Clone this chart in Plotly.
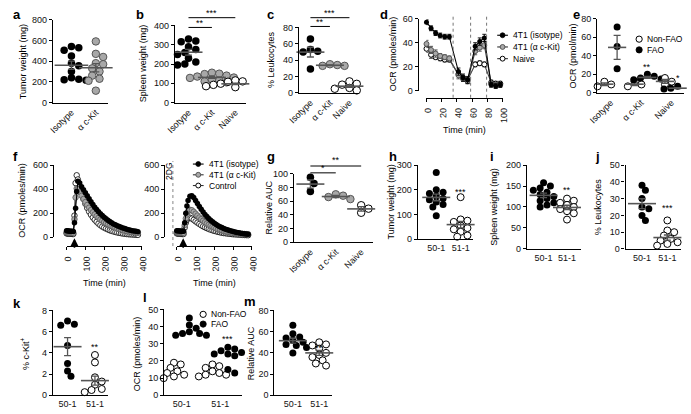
import numpy as np
import plotly.graph_objects as go

W, H = 691, 414
FONT = "Liberation Sans, Arial, sans-serif"

# ---------------- data ----------------
cat2 = ["Isotype", "α c-Kit"]
cat3 = ["Isotype", "α c-Kit", "Naive"]
grp = ["50-1", "51-1"]

a_isotype = [540, 530, 505, 450, 380, 355, 300, 240, 225, 215, 220]
a_ckit = [590, 470, 440, 380, 370, 330, 300, 260, 230, 210, 115]

b_isotype = [330, 320, 315, 290, 275, 260, 250, 230, 210, 200, 195]
b_ckit = [155, 150, 148, 140, 135, 130, 128, 120, 115, 110, 105]
b_naive = [115, 110, 108, 100, 98, 95, 92, 90, 85, 80]

c_isotype = [66, 53, 51, 50, 29]
c_ckit = [35, 34, 33, 33]
c_naive = [14, 11, 10, 8, 6, 5, 3]

d_time = [0, 6, 12, 18, 24, 30, 42, 48, 54, 64, 70, 76, 85, 91, 97]
d_isotype = [57, 52, 48, 46, 45, 45, 16, 11, 9, 37, 41, 44, 5, 4, 5]
d_isotype_err = [2, 2, 2, 2, 2, 2, 3, 3, 3, 3, 3, 3, 2, 2, 2]
d_ckit = [39, 34, 31, 29, 28, 27, 13, 10, 8, 33, 36, 38, 6, 5, 5]
d_ckit_err = [3, 3, 3, 2, 2, 2, 3, 2, 2, 3, 3, 3, 2, 2, 2]
d_naive = [35, 30, 28, 27, 26, 26, 14, 11, 9, 22, 23, 22, 7, 6, 6]
d_naive_err = [3, 3, 2, 2, 2, 2, 2, 2, 2, 2, 2, 2, 2, 2, 2]
d_injections = [35, 58, 79]
d_legend = ["4T1 (isotype)", "4T1 (α c-Kit)", "Naive"]

e_nonfao = [[12, 9, 7], [12, 9, 7], [16, 12, 9]]
e_fao = [[71, 50, 26], [20, 18, 16, 15, 14], [7, 5, 4, 3, 5, 6]]

f_time = [0, 6, 12, 18, 24, 30, 36, 42, 48, 54, 60, 70, 80, 90, 100, 110, 120, 130,
          140, 150, 160, 170, 180, 190, 200, 210, 220, 230, 240, 250, 260, 270, 280,
          290, 300, 310, 320, 330, 340, 350, 360, 370, 380]
f1_isotype = [55, 53, 52, 50, 50, 49, 48, 120, 240, 380, 465, 450, 420, 395, 370, 345,
              320, 295, 272, 250, 230, 212, 195, 180, 166, 153, 141, 130, 120, 111, 103,
              96, 89, 83, 77, 72, 67, 63, 59, 55, 52, 49, 46]
f1_ckit = [42, 40, 39, 38, 37, 37, 36, 150, 330, 405, 400, 375, 345, 318, 292, 268, 246,
           226, 207, 190, 175, 161, 148, 137, 126, 116, 107, 99, 92, 85, 79, 73, 68, 63,
           59, 55, 51, 48, 45, 42, 40, 38, 36]
f1_control = [32, 30, 29, 28, 28, 27, 27, 180, 450, 515, 480, 420, 365, 318, 278, 243,
              213, 187, 164, 145, 128, 113, 100, 89, 80, 72, 65, 58, 53, 48, 44, 40, 37,
              34, 31, 29, 27, 25, 24, 23, 22, 21, 20]
f2_isotype = [55, 53, 52, 51, 50, 50, 49, 120, 200, 260, 305, 340, 345, 330, 305, 280,
              255, 232, 210, 190, 172, 156, 141, 128, 116, 105, 96, 88, 80, 73, 67, 62,
              57, 52, 47, 43, 40, 37, 34, 31, 29, 27, 25]
f2_ckit = [42, 40, 39, 38, 38, 37, 37, 100, 155, 190, 215, 228, 225, 212, 196, 180, 164,
           150, 137, 125, 114, 104, 95, 87, 80, 73, 67, 62, 57, 53, 49, 46, 43, 40, 37,
           35, 33, 31, 29, 28, 27, 26, 25]
f2_control = [32, 30, 29, 28, 28, 27, 27, 80, 120, 145, 158, 162, 155, 144, 132, 121,
              110, 100, 91, 83, 76, 69, 63, 58, 53, 49, 45, 41, 38, 35, 33, 31, 29, 27,
              25, 24, 23, 22, 21, 20, 19, 18, 17]
f_injection = [42, 34]
f_legend = ["4T1 (isotype)", "4T1 (α c-Kit)", "Control"]

g_isotype = [95, 86, 74]
g_ckit = [70, 68, 66, 63]
g_naive = [54, 49, 43]

h_50 = [270, 200, 190, 185, 175, 165, 160, 150, 140, 130, 95]
h_51 = [170, 80, 75, 70, 60, 55, 45, 40, 30, 15, 10]

i_50 = [158, 150, 145, 140, 135, 130, 125, 120, 115, 110, 105, 100]
i_51 = [120, 115, 110, 105, 100, 95, 90, 85, 70]

j_50 = [38, 35, 30, 25, 24, 20, 17]
j_51 = [17, 11, 10, 8, 6, 5, 4, 3, 2, 2]

k_50 = [7.0, 6.7, 6.6, 4.7, 3.0, 2.3, 1.8]
k_51 = [3.8, 3.1, 1.7, 1.3, 1.0, 0.6, 0.3, 0.2, 0.5]

l_nonfao = [[19, 18, 16, 14, 13, 12, 11, 10], [18, 17, 16, 14, 13, 12, 12, 11]]
l_fao = [[45, 41, 39, 37, 36, 35, 35, 36], [28, 27, 26, 25, 24, 24, 23, 15, 13]]

m_50 = [66, 58, 55, 54, 52, 50, 48, 47, 45, 40]
m_51 = [50, 48, 47, 46, 44, 40, 38, 36, 33, 30, 28]

# ---------------- helpers ----------------
fig = go.Figure()
axes = {}
shapes = []
annots = []
counter = [0]


def px2x(px):
    return px / W


def px2y(py):
    return 1 - py / H


TICKFONT = dict(family=FONT, size=9, color="#111")


class Panel:
    def __init__(self, yax_x, yt, yb, yr, yticks, x0, x1, xr, xline,
                 xticks=None, xtext=None, xangle=0, xmarks=False):
        counter[0] += 1
        n = counter[0]
        self.xa = "x" if n == 1 else f"x{n}"
        self.ya = "y" if n == 1 else f"y{n}"
        self.x0, self.x1, self.xr = x0, x1, xr
        self.yt, self.yb, self.yr = yt, yb, yr
        self.xunit = (x1 - x0) / (xr[1] - xr[0])
        self.yunit = (yb - yt) / (yr[1] - yr[0])
        common = dict(showline=True, linecolor="black", linewidth=1.1, showgrid=False,
                      zeroline=False, fixedrange=True, tickfont=TICKFONT,
                      tickcolor="black", tickwidth=1.1, ticklen=3)
        kx = "xaxis" if n == 1 else f"xaxis{n}"
        ky = "yaxis" if n == 1 else f"yaxis{n}"
        xd = dict(domain=[px2x(x0), px2x(x1)], range=xr, anchor="free",
                  position=px2y(xline), tickangle=xangle,
                  ticks="outside" if xmarks else "", **common)
        if xticks is not None:
            xd["tickvals"] = xticks
        if xtext is not None:
            xd["ticktext"] = xtext
        axes[kx] = xd
        axes[ky] = dict(domain=[px2y(yb), px2y(yt)], range=yr, anchor="free",
                        position=px2x(yax_x), tickvals=yticks, ticks="outside", **common)

    def cx(self, v):
        return self.x0 + (v - self.xr[0]) * self.xunit

    def cy(self, v):
        return self.yb - (v - self.yr[0]) * self.yunit


STY = {
    "black": dict(color="black", line=dict(color="black", width=0)),
    "grey": dict(color="#a8a8a8", line=dict(color="#555555", width=1)),
    "open": dict(color="white", line=dict(color="black", width=1)),
}


def swarm(vals, yunit, d):
    order = sorted(range(len(vals)), key=lambda i: -vals[i])
    placed = []
    offs = [0.0] * len(vals)
    for i in order:
        y = vals[i] * yunit
        cand = 0.0
        for k in range(0, 30):
            cand = 0.0 if k == 0 else ((k + 1) // 2) * d * 0.5 * (1 if k % 2 else -1)
            if all((cand - px) ** 2 + (y - py) ** 2 >= (d * 0.85) ** 2 for px, py in placed):
                break
        placed.append((cand, y))
        offs[i] = cand
    return offs


def dots(p, xc, vals, style, size=7.5, mean=True, mean_w=20, mean_col="#555"):
    offs = swarm(vals, p.yunit, size)
    xs = [xc + o / p.xunit for o in offs]
    fig.add_trace(go.Scatter(x=xs, y=vals, xaxis=p.xa, yaxis=p.ya, mode="markers",
                             marker=dict(size=size, **STY[style]), cliponaxis=False,
                             showlegend=False, hoverinfo="skip"))
    if mean:
        m = float(np.mean(vals))
        s = float(np.std(vals, ddof=1) / np.sqrt(len(vals)))
        fig.add_trace(go.Scatter(x=[xc], y=[m], xaxis=p.xa, yaxis=p.ya, mode="markers",
                                 marker=dict(symbol="line-ew", size=mean_w, color=mean_col,
                                             line=dict(color=mean_col, width=1.6)),
                                 error_y=dict(type="data", array=[s], width=3.5,
                                              thickness=1.3, color=mean_col),
                                 cliponaxis=False, showlegend=False, hoverinfo="skip"))


def text(x, y, s, size=9, angle=0, xanchor="center", yanchor="middle", bold=False):
    annots.append(dict(x=px2x(x), y=px2y(y), xref="paper", yref="paper",
                       text=("<b>" + s + "</b>") if bold else s,
                       showarrow=False, textangle=angle, xanchor=xanchor, yanchor=yanchor,
                       font=dict(family=FONT, size=size, color="black")))


def hline(x0, x1, y, width=1.0, color="black", dash=None):
    ln = dict(color=color, width=width)
    if dash:
        ln["dash"] = dash
    shapes.append(dict(type="line", xref="paper", yref="paper", x0=px2x(x0), x1=px2x(x1),
                       y0=px2y(y), y1=px2y(y), line=ln))


def bracket(p, c0, c1, y, stars, ty):
    hline(p.cx(c0), p.cx(c1), y)
    text((p.cx(c0) + p.cx(c1)) / 2, ty, stars, size=9)


def circle(cx, cy, r, style):
    st = STY[style]
    shapes.append(dict(type="circle", xref="paper", yref="paper",
                       x0=px2x(cx - r), x1=px2x(cx + r), y0=px2y(cy + r), y1=px2y(cy - r),
                       fillcolor=st["color"],
                       line=dict(color=st["line"]["color"] if st["line"]["width"] else "black",
                                 width=max(st["line"]["width"], 0.8))))


def legend_line(x, y, style, label, r=2.5, llen=11):
    hline(x - llen / 2, x + llen / 2, y, width=1.1, color="#333" if style != "black" else "black")
    circle(x, y, r, style)
    text(x + llen / 2 + 3, y, label, size=8.5, xanchor="left")


def letter(x, y, s):
    text(x, y, s, size=13, xanchor="left", yanchor="top", bold=True)


# ---------------- panel a ----------------
pa = Panel(43, 15, 100, [0, 800], [0, 200, 400, 600, 800], 43, 100, [-0.8, 1.48], 100,
           [0, 1], cat2, -45)
dots(pa, 0, a_isotype, "black", mean_w=24)
dots(pa, 1, a_ckit, "grey", mean_w=24)
text(13, 58, "Tumor weight (mg)", angle=-90)
letter(1, 0, "a")

# ---------------- panel b ----------------
pb = Panel(168, 21, 100, [0, 400], [0, 100, 200, 300, 400], 168, 242, [-0.625, 2.458], 100,
           [0, 1, 2], cat3, -45)
dots(pb, 0, b_isotype, "black")
dots(pb, 1, b_ckit, "grey")
dots(pb, 2, b_naive, "open")
bracket(pb, 0, 1, 23, "**", 18)
bracket(pb, 0, 2, 13, "***", 8)
text(136, 60, "Spleen weight (mg)", angle=-90)
letter(127, 0, "b")

# ---------------- panel c ----------------
pc = Panel(295, 23, 90, [0, 80], [0, 20, 40, 60, 80], 295, 358, [-0.65, 2.5], 90,
           [0, 1, 2], cat3, -45)
dots(pc, 0, c_isotype, "black")
dots(pc, 1, c_ckit, "grey")
dots(pc, 2, c_naive, "open")
bracket(pc, 0, 1, 22, "**", 17)
bracket(pc, 0, 2, 13, "***", 8)
text(267, 56, "% Leukocytes", angle=-90)
letter(261, 0, "c")

# ---------------- panel d ----------------
pdd = Panel(418, 14, 88, [0, 60], [0, 20, 40, 60], 427, 505, [0, 100], 95,
            [0, 20, 40, 60, 80, 100], None, -89.9, True)
for t in d_injections:
    shapes.append(dict(type="line", xref=pdd.xa, yref="paper", x0=t, x1=t,
                       y0=px2y(95), y1=px2y(12),
                       line=dict(color="#666", width=0.9, dash="dot")))
for vals, err, style, col in [(d_naive, d_naive_err, "open", "#444"),
                              (d_ckit, d_ckit_err, "grey", "#444"),
                              (d_isotype, d_isotype_err, "black", "black")]:
    fig.add_trace(go.Scatter(x=d_time, y=vals, xaxis=pdd.xa, yaxis=pdd.ya, mode="lines+markers",
                             line=dict(color=col, width=1.1),
                             marker=dict(size=5, **STY[style]),
                             error_y=dict(type="data", array=err, width=2, thickness=0.9, color=col),
                             cliponaxis=False, showlegend=False, hoverinfo="skip"))
for k, (lab, style) in enumerate(zip(d_legend, ["black", "grey", "open"])):
    legend_line(505, 31 + 12 * k, style, lab)
text(392, 50, "OCR (pmoles/min)", angle=-90)
text(466, 128, "Time (min)")
letter(377, 0, "d")

# ---------------- panel e ----------------
pe = Panel(601, 14, 90, [0, 80], [0, 20, 40, 60, 80], 601, 691, [-0.48, 2.42], 90,
           [0, 1, 2], cat3, -45)
for c in range(3):
    dots(pe, c - 0.21, e_nonfao[c], "open", size=7, mean_w=13)
    dots(pe, c + 0.21, e_fao[c], "black", size=7, mean_w=13)
text(pe.cx(1.21), 64, "**", size=9)
text(pe.cx(2.21), 75, "*", size=9)
circle(645, 35, 3.2, "open")
text(651, 35, "Non-FAO", size=8.5, xanchor="left")
circle(645, 46, 3.2, "black")
text(651, 46, "FAO", size=8.5, xanchor="left")
text(577, 52, "OCR (pmol/min)", angle=-90)
letter(575, 0, "e")

# ---------------- panel f ----------------
pf1 = Panel(44, 164, 238, [0, 600], [0, 200, 400, 600], 58, 135, [0, 400], 247,
            [0, 100, 200, 300, 400], None, -89.9, True)
pf2 = Panel(158, 164, 238, [0, 600], [0, 200, 400, 600], 171, 248, [0, 400], 247,
            [0, 100, 200, 300, 400], None, -89.9, True)
for p, series, inj in [(pf1, [f1_control, f1_ckit, f1_isotype], f_injection[0]),
                       (pf2, [f2_control, f2_ckit, f2_isotype], f_injection[1])]:
    for vals, style, col in zip(series, ["open", "grey", "black"], ["#333", "#333", "black"]):
        fig.add_trace(go.Scatter(x=f_time, y=vals, xaxis=p.xa, yaxis=p.ya, mode="lines+markers",
                                 line=dict(color=col, width=1),
                                 marker=dict(size=5.5, **{**STY[style], "line": dict(
                                     color=STY[style]["line"]["color"],
                                     width=0.8 if style != "black" else 0)}),
                                 cliponaxis=False, showlegend=False, hoverinfo="skip"))
    ax = p.cx(inj)
    annots.append(dict(x=px2x(ax), y=px2y(239), xref="paper", yref="paper", text="",
                       showarrow=True, ax=0, ay=11, arrowhead=2, arrowsize=1,
                       arrowwidth=1.6, arrowcolor="black"))
shapes.append(dict(type="line", xref="paper", yref="paper", x0=px2x(167), x1=px2x(167),
                   y0=px2y(247), y1=px2y(160), line=dict(color="#777", width=0.9, dash="dot")))
text(163, 170, "2DG", size=8.5, angle=-90)
for k, (lab, style) in enumerate(zip(f_legend, ["black", "grey", "open"])):
    legend_line(193, 163 + 11 * k, style, lab)
text(12, 200, "OCR (pmoles/min)", angle=-90)
text(97, 285, "Time (min)")
text(210, 285, "Time (min)")
letter(1, 146, "f")

# ---------------- panel g ----------------
pg = Panel(290, 173, 243, [0, 100], [0, 20, 40, 60, 80, 100], 290, 372, [-0.69, 2.46], 243,
           [0, 1, 2], cat3, -45)
dots(pg, 0, g_isotype, "black")
dots(pg, 1, g_ckit, "grey")
dots(pg, 2, g_naive, "open")
bracket(pg, 0, 1, 172, "*", 167)
bracket(pg, 0, 2, 165, "**", 159)
text(266, 207, "Relative AUC", angle=-90)
letter(261, 146, "g")

# ---------------- panel h ----------------
ph = Panel(417, 164, 240, [0, 300], [0, 100, 200, 300], 417, 475, [-0.8, 1.52], 240,
           [0, 1], grp, 0)
dots(ph, 0, h_50, "black", size=7)
dots(ph, 1, h_51, "open", size=7)
text(ph.cx(1), 192, "***", size=9)
text(391, 202, "Tumor weight (mg)", angle=-90)
letter(387, 146, "h")

# ---------------- panel i ----------------
pi_ = Panel(529, 164, 250, [0, 200], [0, 50, 100, 150, 200], 529, 585, [-0.75, 1.58], 250,
            [0, 1], grp, 0)
dots(pi_, 0, i_50, "black", size=7)
dots(pi_, 1, i_51, "open", size=7)
text(pi_.cx(1), 190, "**", size=9)
text(496, 207, "Spleen weight (mg)", angle=-90)
letter(490, 146, "i")

# ---------------- panel j ----------------
pj = Panel(630, 164, 250, [0, 50], [0, 10, 20, 30, 40, 50], 630, 688, [-0.69, 1.54], 250,
           [0, 1], grp, 0)
dots(pj, 0, j_50, "black", size=7)
dots(pj, 1, j_51, "open", size=7)
text(pj.cx(1), 208, "***", size=9)
text(603, 207, "% Leukocytes", angle=-90)
letter(598, 146, "j")

# ---------------- panel k ----------------
pk = Panel(43, 313, 400, [0, 8], [0, 2, 4, 6, 8], 43, 100, [-0.57, 1.46], 400,
           [0, 1], grp, 0)
dots(pk, 0, k_50, "black", size=7)
dots(pk, 1, k_51, "open", size=7)
text(pk.cx(1), 350, "**", size=9)
text(16, 357, "% c-Kit<sup>+</sup>", angle=-90)
letter(1, 296, "k")

# ---------------- panel l ----------------
pl = Panel(157, 312, 400, [0, 50], [0, 10, 20, 30, 40, 50], 157, 238, [-0.48, 1.57], 400,
           [0, 1], grp, 0)
for c in range(2):
    dots(pl, c - 0.2, l_nonfao[c], "open", size=7, mean=False)
    dots(pl, c + 0.2, l_fao[c], "black", size=7, mean=False)
text(pl.cx(1.2), 342, "***", size=9)
circle(198, 317, 3.2, "open")
text(204, 317, "Non-FAO", size=8.5, xanchor="left")
circle(198, 327, 3.2, "black")
text(204, 327, "FAO", size=8.5, xanchor="left")
text(131, 357, "OCR (pmoles/min)", angle=-90)
letter(134, 290, "l")

# ---------------- panel m ----------------
pm = Panel(270, 313, 400, [0, 80], [0, 20, 40, 60, 80], 270, 330, [-0.74, 1.48], 400,
           [0, 1], grp, 0)
dots(pm, 0, m_50, "black", size=7)
dots(pm, 1, m_51, "open", size=7)
text(pm.cx(1), 352, "**", size=9)
text(247, 357, "Relative AUC", angle=-90)
letter(238, 294, "m")

fig.update_layout(width=W, height=H, margin=dict(l=0, r=0, t=0, b=0),
                  paper_bgcolor="white", plot_bgcolor="rgba(0,0,0,0)",
                  showlegend=False, shapes=shapes, annotations=annots,
                  font=dict(family=FONT, size=9, color="black"), **axes)
fig.write_html("out.html", config={"displayModeBar": False},
               post_script="document.body.style.margin='0px';")
